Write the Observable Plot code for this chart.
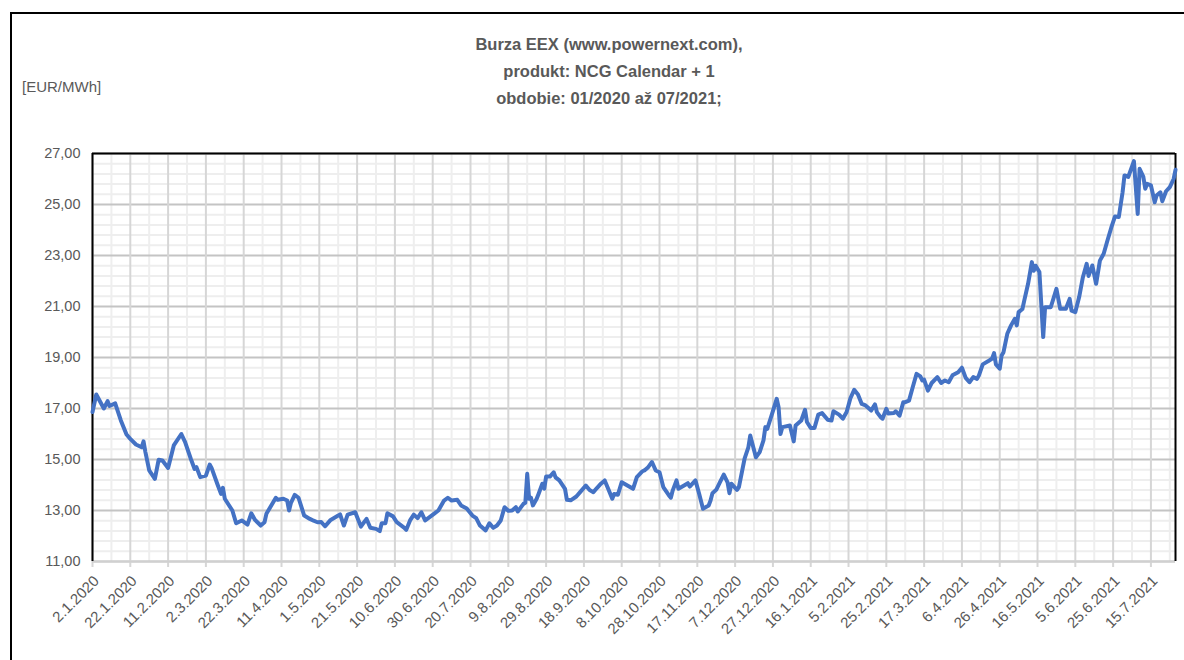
<!DOCTYPE html>
<html>
<head>
<meta charset="utf-8">
<script src="https://cdn.jsdelivr.net/npm/d3@7"></script>
<script src="https://cdn.jsdelivr.net/npm/@observablehq/plot@0.6"></script>
<style>
html, body { margin: 0; padding: 0; background: #fff; }
#wrap { position: relative; width: 1184px; height: 660px; overflow: hidden; font-family: "Liberation Sans", Arial, sans-serif; }
#frame { position: absolute; left: 10px; top: 12px; width: 1190px; height: 700px; border: 2px solid #000; box-sizing: border-box; }
#title { position: absolute; left: 0; width: 1218px; top: 31px; text-align: center; color: #595959; font-weight: bold; font-size: 16.5px; line-height: 27px; }
#unit { position: absolute; left: 22px; top: 77px; color: #595959; font-size: 15px; line-height: 20px; }
#chart { position: absolute; left: 0; top: 0; }
#chart svg { overflow: visible; }
</style>
</head>
<body>
<div id="wrap">
  <div id="frame"></div>
  <div id="title">Burza EEX (www.powernext.com),<br>produkt: NCG Calendar + 1<br>obdobie: 01/2020 až 07/2021;</div>
  <div id="unit">[EUR/MWh]</div>
  <div id="chart"></div>
</div>
<script>
// ---- data ----
const dates = [
"2020-01-02","2020-01-04","2020-01-08","2020-01-10","2020-01-11","2020-01-14","2020-01-17","2020-01-20","2020-01-22","2020-01-25",
"2020-01-28","2020-01-29","2020-01-30","2020-02-01","2020-02-04","2020-02-06","2020-02-08","2020-02-11","2020-02-14","2020-02-18",
"2020-02-20","2020-02-23","2020-02-25","2020-02-26","2020-02-28","2020-03-02","2020-03-04","2020-03-05","2020-03-08","2020-03-10",
"2020-03-11","2020-03-12","2020-03-16","2020-03-18","2020-03-21","2020-03-24","2020-03-26","2020-03-28","2020-03-31","2020-04-02",
"2020-04-03","2020-04-08","2020-04-09","2020-04-12","2020-04-14","2020-04-15","2020-04-16","2020-04-18","2020-04-20","2020-04-23",
"2020-04-26","2020-04-28","2020-04-30","2020-05-02","2020-05-04","2020-05-07","2020-05-11","2020-05-12","2020-05-14","2020-05-16",
"2020-05-20","2020-05-23","2020-05-26","2020-05-28","2020-05-31","2020-06-02","2020-06-03","2020-06-05","2020-06-06","2020-06-09",
"2020-06-11","2020-06-15","2020-06-16","2020-06-18","2020-06-20","2020-06-22","2020-06-24","2020-06-26","2020-06-28","2020-07-01",
"2020-07-03","2020-07-06","2020-07-08","2020-07-10","2020-07-13","2020-07-15","2020-07-18","2020-07-21","2020-07-23","2020-07-25",
"2020-07-28","2020-07-30","2020-08-01","2020-08-03","2020-08-05","2020-08-07","2020-08-09","2020-08-11","2020-08-13","2020-08-14",
"2020-08-17","2020-08-18","2020-08-19","2020-08-20","2020-08-21","2020-08-22","2020-08-24","2020-08-25","2020-08-27","2020-08-28",
"2020-08-29","2020-08-31","2020-09-02","2020-09-03","2020-09-05","2020-09-08","2020-09-09","2020-09-11","2020-09-14","2020-09-16",
"2020-09-19","2020-09-21","2020-09-23","2020-09-25","2020-09-27","2020-09-29","2020-10-01","2020-10-03","2020-10-04","2020-10-06",
"2020-10-08","2020-10-11","2020-10-14","2020-10-16","2020-10-19","2020-10-20","2020-10-22","2020-10-24","2020-10-26","2020-10-28",
"2020-10-30","2020-11-02","2020-11-03","2020-11-04","2020-11-06","2020-11-07","2020-11-10","2020-11-12","2020-11-13","2020-11-16",
"2020-11-18","2020-11-20","2020-11-23","2020-11-24","2020-11-25","2020-11-27","2020-11-29","2020-12-01","2020-12-03","2020-12-04",
"2020-12-05","2020-12-08","2020-12-09","2020-12-12","2020-12-14","2020-12-15","2020-12-18","2020-12-20","2020-12-22","2020-12-23",
"2020-12-24","2020-12-26","2020-12-29","2020-12-30","2020-12-31","2021-01-01","2021-01-05","2021-01-07","2021-01-08","2021-01-11",
"2021-01-13","2021-01-14","2021-01-16","2021-01-18","2021-01-20","2021-01-22","2021-01-25","2021-01-27","2021-01-28","2021-01-31",
"2021-02-02","2021-02-04","2021-02-06","2021-02-08","2021-02-10","2021-02-12","2021-02-14","2021-02-16","2021-02-17","2021-02-19",
"2021-02-20","2021-02-22","2021-02-23","2021-02-25","2021-02-26","2021-03-01","2021-03-02","2021-03-04","2021-03-06","2021-03-07",
"2021-03-09","2021-03-11","2021-03-13","2021-03-15","2021-03-16","2021-03-17","2021-03-19","2021-03-21","2021-03-24","2021-03-26",
"2021-03-28","2021-03-30","2021-04-01","2021-04-04","2021-04-06","2021-04-08","2021-04-10","2021-04-12","2021-04-14","2021-04-15",
"2021-04-17","2021-04-20","2021-04-22","2021-04-23","2021-04-24","2021-04-26","2021-04-27","2021-04-28","2021-04-30","2021-05-02",
"2021-05-04","2021-05-05","2021-05-06","2021-05-08","2021-05-09","2021-05-11","2021-05-13","2021-05-14","2021-05-15","2021-05-17",
"2021-05-19","2021-05-20","2021-05-23","2021-05-26","2021-05-28","2021-05-31","2021-06-02","2021-06-03","2021-06-05","2021-06-07",
"2021-06-09","2021-06-11","2021-06-12","2021-06-14","2021-06-16","2021-06-18","2021-06-20","2021-06-22","2021-06-24","2021-06-26",
"2021-06-28","2021-06-30","2021-07-01","2021-07-03","2021-07-06","2021-07-08","2021-07-09","2021-07-11","2021-07-12","2021-07-13",
"2021-07-15","2021-07-17","2021-07-18","2021-07-20","2021-07-21","2021-07-23","2021-07-25","2021-07-27","2021-07-28"
];
const prices = [
16.86,17.55,17.00,17.29,17.10,17.20,16.53,15.98,15.81,15.59,
15.48,15.71,15.29,14.57,14.24,14.99,14.96,14.67,15.55,16.00,
15.68,15.03,14.63,14.70,14.31,14.37,14.80,14.67,14.05,13.65,
13.89,13.46,13.00,12.50,12.61,12.45,12.89,12.63,12.41,12.54,
12.87,13.50,13.42,13.46,13.39,13.00,13.30,13.61,13.50,12.80,
12.67,12.60,12.54,12.55,12.38,12.63,12.80,12.85,12.41,12.84,
12.93,12.37,12.67,12.32,12.28,12.19,12.50,12.50,12.89,12.77,
12.54,12.32,12.24,12.61,12.84,12.70,12.93,12.61,12.72,12.89,
13.00,13.39,13.50,13.39,13.42,13.20,13.08,12.80,12.70,12.41,
12.22,12.50,12.32,12.41,12.61,13.13,12.99,13.00,13.13,12.96,
13.26,13.30,14.44,13.46,13.50,13.20,13.46,13.65,14.05,13.86,
14.33,14.33,14.50,14.30,14.18,13.85,13.42,13.40,13.55,13.72,
13.98,13.80,13.72,13.89,14.05,14.18,13.82,13.46,13.65,13.62,
14.11,13.98,13.85,14.31,14.54,14.57,14.70,14.90,14.57,14.50,
13.92,13.59,13.50,13.79,14.18,13.85,13.98,14.07,13.94,14.18,
13.65,13.07,13.20,13.39,13.68,13.81,14.11,14.41,14.10,13.68,
14.05,13.81,13.92,15.03,15.48,15.94,15.09,15.29,15.75,16.27,
16.20,16.66,17.38,17.05,16.00,16.27,16.33,15.71,16.33,16.53,
16.95,16.47,16.24,16.24,16.76,16.82,16.56,16.53,16.89,16.76,
16.60,16.86,17.40,17.73,17.55,17.18,17.12,16.99,16.92,17.16,
16.86,16.66,16.60,16.99,16.80,16.82,16.89,16.72,17.25,17.25,
17.31,17.84,18.36,18.26,18.10,18.13,17.70,18.00,18.23,18.00,
18.10,18.03,18.30,18.42,18.60,18.20,18.03,18.23,18.16,18.30,
18.73,18.86,18.96,19.17,18.73,18.56,19.08,19.21,19.93,20.26,
20.52,20.26,20.78,20.90,21.24,21.89,22.74,22.40,22.60,22.35,
19.80,20.97,20.97,21.69,20.91,20.91,21.30,20.84,20.78,21.36,
22.15,22.67,22.20,22.61,21.89,22.80,23.07,23.59,24.09,24.53,
24.51,25.48,26.14,26.08,26.70,24.63,26.40,26.08,25.62,25.81,
25.75,25.09,25.35,25.48,25.13,25.52,25.68,26.00,26.36
];
const xTickLabels = ["2.1.2020","22.1.2020","11.2.2020","2.3.2020","22.3.2020","11.4.2020","1.5.2020","21.5.2020","10.6.2020","30.6.2020",
"20.7.2020","9.8.2020","29.8.2020","18.9.2020","8.10.2020","28.10.2020","17.11.2020","7.12.2020","27.12.2020","16.1.2021",
"5.2.2021","25.2.2021","17.3.2021","6.4.2021","26.4.2021","16.5.2021","5.6.2021","25.6.2021","15.7.2021"];
const yTicks = [11, 13, 15, 17, 19, 21, 23, 25, 27];
const xStart = "2020-01-02";
const xEnd = "2021-07-28";

// ---- build ----
const parseLabel = d3.utcParse("%d.%m.%Y");
const data = dates.map((d, i) => ({date: new Date(d), price: prices[i]}));
const tickDates = xTickLabels.map(parseLabel);
const minorX = tickDates.map(t => d3.utcDay.offset(t, 10));
const minorY = d3.range(11, 27.001, 0.4).filter(v => Math.abs((v - 11) / 2 - Math.round((v - 11) / 2)) > 0.01);
const x0 = new Date(xStart), x1 = new Date(xEnd);
const fmtY = v => v.toFixed(2).replace(".", ",");
const labelOf = new Map(tickDates.map((t, i) => [+t, xTickLabels[i]]));

const chart = Plot.plot({
  width: 1184,
  height: 660,
  marginLeft: 92,
  marginRight: 9,
  marginTop: 153,
  marginBottom: 99,
  style: {fontFamily: "Liberation Sans, Arial, sans-serif", fontSize: "14px", color: "#595959", background: "transparent"},
  x: {type: "utc", domain: [x0, x1], axis: null},
  y: {domain: [11, 27], axis: null},
  marks: [
    Plot.ruleY(minorY, {stroke: "#eeeeee", strokeWidth: 2}),
    Plot.ruleX(minorX, {stroke: "#eeeeee", strokeWidth: 2, y1: 11, y2: 27}),
    Plot.ruleY(yTicks, {stroke: "#c4c4c4", strokeWidth: 2}),
    Plot.ruleX(tickDates, {stroke: "#d6d6d6", strokeWidth: 2, y1: 10.76, y2: 27}),
    Plot.ruleY([11], {stroke: "#d0d0d0", strokeWidth: 2}),
    Plot.ruleY([27], {stroke: "#000", strokeWidth: 2}),
    Plot.ruleX([x0], {stroke: "#000", strokeWidth: 2, y1: 11, y2: 27}),
    Plot.ruleX([x1], {stroke: "#000", strokeWidth: 2, y1: 11, y2: 27}),
    Plot.line(data, {x: "date", y: "price", stroke: "#4472C4", strokeWidth: 4, strokeLinejoin: "round", strokeLinecap: "round"}),
    Plot.text(yTicks, {x: () => x0, y: d => d, text: fmtY, textAnchor: "end", dx: -12, fill: "#595959", fontSize: 14.5}),
    Plot.text(tickDates, {x: d => d, y: () => 11, text: d => labelOf.get(+d), rotate: -45, textAnchor: "end", dx: 4, dy: 17, fill: "#595959", fontSize: 15})
  ]
});
document.getElementById("chart").appendChild(chart);
</script>
</body>
</html>
